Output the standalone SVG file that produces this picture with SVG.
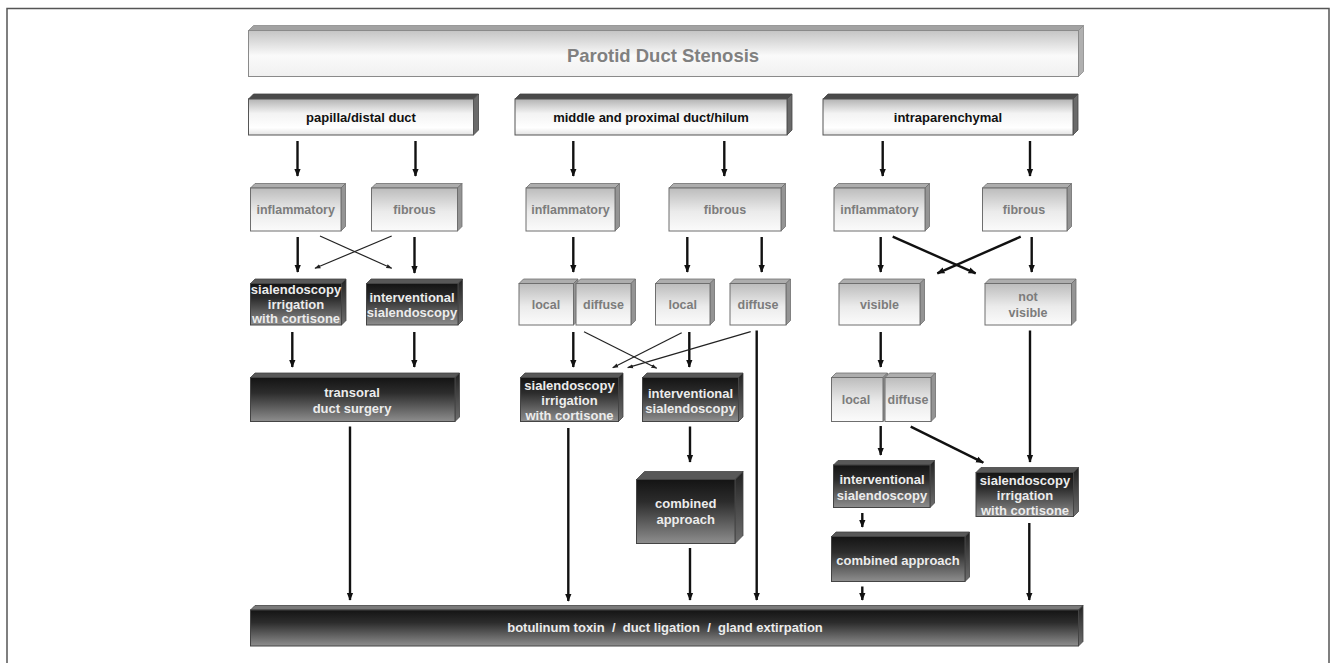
<svg xmlns="http://www.w3.org/2000/svg" width="1330" height="663" viewBox="0 0 1330 663">
<defs>
<linearGradient id="gLight" x1="0" y1="0" x2="0" y2="1"><stop offset="0" stop-color="#bcbcbc"/><stop offset="0.55" stop-color="#ebebeb"/><stop offset="1" stop-color="#fbfbfb"/></linearGradient>
<linearGradient id="gDark" x1="0" y1="0" x2="0" y2="1"><stop offset="0" stop-color="#141414"/><stop offset="0.35" stop-color="#2c2c2c"/><stop offset="1" stop-color="#8e8e8e"/></linearGradient>
<linearGradient id="gHead" x1="0" y1="0" x2="0" y2="1"><stop offset="0" stop-color="#b3b3b3"/><stop offset="0.4" stop-color="#f3f3f3"/><stop offset="0.8" stop-color="#ffffff"/><stop offset="1" stop-color="#e2e2e2"/></linearGradient>
<linearGradient id="gBanner" x1="0" y1="0" x2="0" y2="1"><stop offset="0" stop-color="#c4c4c4"/><stop offset="0.55" stop-color="#fafafa"/><stop offset="1" stop-color="#f0f0f0"/></linearGradient>
<linearGradient id="gDSide" x1="0" y1="0" x2="0" y2="1"><stop offset="0" stop-color="#222"/><stop offset="1" stop-color="#6e6e6e"/></linearGradient>
<marker id="ah" markerUnits="userSpaceOnUse" markerWidth="8" markerHeight="8" viewBox="0 0 10 10" refX="9" refY="5" orient="auto"><path d="M0,1 L10,5 L0,9 z" fill="#111"/></marker>
<marker id="ahs" markerUnits="userSpaceOnUse" markerWidth="6" markerHeight="6" viewBox="0 0 10 10" refX="9" refY="5" orient="auto"><path d="M0,1.5 L10,5 L0,8.5 z" fill="#222"/></marker>
</defs>
<style>
.lf{fill:url(#gLight);stroke:#6e6e6e;stroke-width:1}
.lt{fill:#adadad;stroke:#6e6e6e;stroke-width:0.8}
.ls{fill:#949494;stroke:#6e6e6e;stroke-width:0.8}
.df{fill:url(#gDark);stroke:#444;stroke-width:1}
.dt{fill:#585858;stroke:#444;stroke-width:0.8}
.ds{fill:url(#gDSide);stroke:#444;stroke-width:0.8}
.hf{fill:url(#gHead);stroke:#555;stroke-width:1}
.ht{fill:#4a4a4a;stroke:#444;stroke-width:0.8}
.hs{fill:#6a6a6a;stroke:#444;stroke-width:0.8}
.bf{fill:url(#gBanner);stroke:#8a8a8a;stroke-width:1}
.bt{fill:#a2a2a2;stroke:#8a8a8a;stroke-width:0.8}
.bs{fill:#b0b0b0;stroke:#8a8a8a;stroke-width:0.8}
text{font-family:"Liberation Sans",Arial,sans-serif;font-weight:bold;text-anchor:middle}
.tl{font-size:12.5px;fill:#7c7c7c}
.tw{font-size:13px;fill:#ececec}
.th{font-size:13px;fill:#111}
.tt{font-size:18.5px;fill:#808080}
.c{fill:none;stroke:#111;stroke-width:2.4;marker-end:url(#ah)}
.t{fill:none;stroke:#222;stroke-width:1.2;marker-end:url(#ahs)}
</style>
<rect x="0" y="0" width="1330" height="663" fill="#ffffff"/>
<rect x="7" y="8.5" width="1322" height="700" fill="none" stroke="#555" stroke-width="1.5"/>

<g id="banner">
<polygon class="bt" points="248.5,30.5 253.5,25.5 1083.5,25.5 1078.5,30.5"/>
<polygon class="bs" points="1078.5,30.5 1083.5,25.5 1083.5,71.5 1078.5,76.5"/>
<rect class="bf" x="248.5" y="30.5" width="830" height="46"/>
<text class="tt" x="663" y="62">Parotid Duct Stenosis</text>
</g>

<g id="h-papilla">
<polygon class="ht" points="248.5,99 253.5,94 478.5,94 473.5,99"/>
<polygon class="hs" points="473.5,99 478.5,94 478.5,130 473.5,135"/>
<rect class="hf" x="248.5" y="99" width="225" height="36"/>
<text class="th" x="361" y="122">papilla/distal duct</text>
</g>
<g id="h-middle">
<polygon class="ht" points="515,99 520,94 792,94 787,99"/>
<polygon class="hs" points="787,99 792,94 792,130 787,135"/>
<rect class="hf" x="515" y="99" width="272" height="36"/>
<text class="th" x="651" y="122">middle and proximal duct/hilum</text>
</g>
<g id="h-intra">
<polygon class="ht" points="823,99 828,94 1078,94 1073,99"/>
<polygon class="hs" points="1073,99 1078,94 1078,130 1073,135"/>
<rect class="hf" x="823" y="99" width="250" height="36"/>
<text class="th" x="948" y="122">intraparenchymal</text>
</g>

<g id="l-inflammatory">
<polygon class="lt" points="250.5,188 255,183.5 345.5,183.5 341,188"/>
<polygon class="ls" points="341,188 345.5,183.5 345.5,226.5 341,231"/>
<rect class="lf" x="250.5" y="188" width="90.5" height="43"/>
<text class="tl" x="295.7" y="214">inflammatory</text>
</g>
<g id="l-fibrous">
<polygon class="lt" points="371.5,188 376,183.5 462,183.5 457.5,188"/>
<polygon class="ls" points="457.5,188 462,183.5 462,226.5 457.5,231"/>
<rect class="lf" x="371.5" y="188" width="86" height="43"/>
<text class="tl" x="414.5" y="214">fibrous</text>
</g>
<g id="m-inflammatory">
<polygon class="lt" points="526,188 530.5,183.5 619.5,183.5 615,188"/>
<polygon class="ls" points="615,188 619.5,183.5 619.5,226.5 615,231"/>
<rect class="lf" x="526" y="188" width="89" height="43"/>
<text class="tl" x="570.5" y="214">inflammatory</text>
</g>
<g id="m-fibrous">
<polygon class="lt" points="669,188 673.5,183.5 785.5,183.5 781,188"/>
<polygon class="ls" points="781,188 785.5,183.5 785.5,226.5 781,231"/>
<rect class="lf" x="669" y="188" width="112" height="43"/>
<text class="tl" x="725" y="214">fibrous</text>
</g>
<g id="r-inflammatory">
<polygon class="lt" points="834,188 838.5,183.5 929.5,183.5 925,188"/>
<polygon class="ls" points="925,188 929.5,183.5 929.5,226.5 925,231"/>
<rect class="lf" x="834" y="188" width="91" height="43"/>
<text class="tl" x="879.5" y="214">inflammatory</text>
</g>
<g id="r-fibrous">
<polygon class="lt" points="982.5,188 987,183.5 1071.5,183.5 1067,188"/>
<polygon class="ls" points="1067,188 1071.5,183.5 1071.5,226.5 1067,231"/>
<rect class="lf" x="982.5" y="188" width="84.5" height="43"/>
<text class="tl" x="1024" y="214">fibrous</text>
</g>

<g id="l-sial-irrigation">
<polygon class="dt" points="250.5,283.5 255,279 346,279 341.5,283.5"/>
<polygon class="ds" points="341.5,283.5 346,279 346,320.5 341.5,325"/>
<rect class="df" x="250.5" y="283.5" width="91" height="41.5"/>
<text class="tw" x="296" y="294">sialendoscopy</text>
<text class="tw" x="296" y="308.5">irrigation</text>
<text class="tw" x="296" y="323">with cortisone</text>
</g>
<g id="l-interventional">
<polygon class="dt" points="366.5,283.5 371,279 462.5,279 458,283.5"/>
<polygon class="ds" points="458,283.5 462.5,279 462.5,320.5 458,325"/>
<rect class="df" x="366.5" y="283.5" width="91.5" height="41.5"/>
<text class="tw" x="412" y="301.5">interventional</text>
<text class="tw" x="412" y="316.5">sialendoscopy</text>
</g>
<g id="m-infl-local-diffuse">
<polygon class="lt" points="519,283.5 523.5,279 578,279 573.5,283.5"/>
<polygon class="ls" points="573.5,283.5 578,279 578,320.5 573.5,325"/>
<rect class="lf" x="519" y="283.5" width="54.5" height="41.5"/>
<polygon class="lt" points="576,283.5 580.5,279 635.5,279 631,283.5"/>
<polygon class="ls" points="631,283.5 635.5,279 635.5,320.5 631,325"/>
<rect class="lf" x="576" y="283.5" width="55" height="41.5"/>
<text class="tl" x="546" y="309">local</text>
<text class="tl" x="603.5" y="309">diffuse</text>
</g>
<g id="m-fib-local">
<polygon class="lt" points="655.5,283.5 660,279 714.5,279 710,283.5"/>
<polygon class="ls" points="710,283.5 714.5,279 714.5,320.5 710,325"/>
<rect class="lf" x="655.5" y="283.5" width="54.5" height="41.5"/>
<text class="tl" x="682.7" y="309">local</text>
</g>
<g id="m-fib-diffuse">
<polygon class="lt" points="730,283.5 734.5,279 790.5,279 786,283.5"/>
<polygon class="ls" points="786,283.5 790.5,279 790.5,320.5 786,325"/>
<rect class="lf" x="730" y="283.5" width="56" height="41.5"/>
<text class="tl" x="758" y="309">diffuse</text>
</g>
<g id="r-visible">
<polygon class="lt" points="839,283.5 843.5,279 924.5,279 920,283.5"/>
<polygon class="ls" points="920,283.5 924.5,279 924.5,320.5 920,325"/>
<rect class="lf" x="839" y="283.5" width="81" height="41.5"/>
<text class="tl" x="879.5" y="309">visible</text>
</g>
<g id="r-not-visible">
<polygon class="lt" points="985,283.5 989.5,279 1076,279 1071.5,283.5"/>
<polygon class="ls" points="1071.5,283.5 1076,279 1076,320.5 1071.5,325"/>
<rect class="lf" x="985" y="283.5" width="86.5" height="41.5"/>
<text class="tl" x="1028" y="301">not</text>
<text class="tl" x="1028" y="317">visible</text>
</g>

<g id="l-transoral">
<polygon class="dt" points="250.5,377.5 255,373 459.5,373 455,377.5"/>
<polygon class="ds" points="455,377.5 459.5,373 459.5,417 455,421.5"/>
<rect class="df" x="250.5" y="377.5" width="204.5" height="44"/>
<text class="tw" x="352" y="397">transoral</text>
<text class="tw" x="352" y="412.5">duct surgery</text>
</g>
<g id="m-sial-irrigation">
<polygon class="dt" points="520.5,377.5 525,373 623,373 618.5,377.5"/>
<polygon class="ds" points="618.5,377.5 623,373 623,417 618.5,421.5"/>
<rect class="df" x="520.5" y="377.5" width="98" height="44"/>
<text class="tw" x="569.5" y="389.5">sialendoscopy</text>
<text class="tw" x="569.5" y="404.5">irrigation</text>
<text class="tw" x="569.5" y="419.5">with cortisone</text>
</g>
<g id="m-interventional">
<polygon class="dt" points="642.5,377.5 647,373 743,373 738.5,377.5"/>
<polygon class="ds" points="738.5,377.5 743,373 743,417 738.5,421.5"/>
<rect class="df" x="642.5" y="377.5" width="96" height="44"/>
<text class="tw" x="690.5" y="397.5">interventional</text>
<text class="tw" x="690.5" y="412.5">sialendoscopy</text>
</g>
<g id="r-local-diffuse">
<polygon class="lt" points="831.5,377.5 836,373 887.5,373 883,377.5"/>
<polygon class="ls" points="883,377.5 887.5,373 887.5,417 883,421.5"/>
<rect class="lf" x="831.5" y="377.5" width="51.5" height="44"/>
<polygon class="lt" points="885,377.5 889.5,373 935.5,373 931,377.5"/>
<polygon class="ls" points="931,377.5 935.5,373 935.5,417 931,421.5"/>
<rect class="lf" x="885" y="377.5" width="46" height="44"/>
<text class="tl" x="856" y="404">local</text>
<text class="tl" x="908" y="404">diffuse</text>
</g>

<g id="m-combined">
<polygon class="dt" points="636.5,479.5 644.5,471.5 743,471.5 735,479.5"/>
<polygon class="ds" points="735,479.5 743,471.5 743,535.5 735,543.5"/>
<rect class="df" x="636.5" y="479.5" width="98.5" height="64"/>
<text class="tw" x="685.7" y="508">combined</text>
<text class="tw" x="685.7" y="524">approach</text>
</g>
<g id="r-interventional">
<polygon class="dt" points="833.5,465 838,460.5 934.5,460.5 930,465"/>
<polygon class="ds" points="930,465 934.5,460.5 934.5,503 930,507.5"/>
<rect class="df" x="833.5" y="465" width="96.5" height="42.5"/>
<text class="tw" x="882" y="483.5">interventional</text>
<text class="tw" x="882" y="499.5">sialendoscopy</text>
</g>
<g id="r-sial-irrigation">
<polygon class="dt" points="976,472.5 981,467.5 1078.5,467.5 1073.5,472.5"/>
<polygon class="ds" points="1073.5,472.5 1078.5,467.5 1078.5,511.5 1073.5,516.5"/>
<rect class="df" x="976" y="472.5" width="97.5" height="44"/>
<text class="tw" x="1025" y="484.5">sialendoscopy</text>
<text class="tw" x="1025" y="500">irrigation</text>
<text class="tw" x="1025" y="515">with cortisone</text>
</g>
<g id="r-combined">
<polygon class="dt" points="831.5,536.5 836,532 969.5,532 965,536.5"/>
<polygon class="ds" points="965,536.5 969.5,532 969.5,577 965,581.5"/>
<rect class="df" x="831.5" y="536.5" width="133.5" height="45"/>
<text class="tw" x="898" y="564.5">combined approach</text>
</g>

<g id="final">
<polygon class="dt" points="250.5,610 255,605.5 1083,605.5 1078.5,610" style="fill:#7a7a7a"/>
<polygon class="ds" points="1078.5,610 1083,605.5 1083,641.5 1078.5,646"/>
<rect class="df" x="250.5" y="610" width="828" height="36"/>
<text class="tw" x="665" y="632">botulinum toxin &#160;/&#160; duct ligation &#160;/&#160; gland extirpation</text>
</g>

<g id="connectors">
<path class="c" d="M297.5,141 V176"/>
<path class="c" d="M415.5,141 V176"/>
<path class="c" d="M573.3,141 V176"/>
<path class="c" d="M724.3,141 V176"/>
<path class="c" d="M882.7,141 V176"/>
<path class="c" d="M1030,141 V176"/>
<path class="c" d="M297.7,237 V272"/>
<path class="c" d="M414.5,237 V273"/>
<path class="t" d="M320,236 L391.7,268.3"/>
<path class="t" d="M391.7,236 L315,268.3"/>
<path class="c" d="M573.3,237 V272"/>
<path class="c" d="M687.3,237 V272"/>
<path class="c" d="M761.7,237 V272"/>
<path class="c" d="M880.7,237 V272"/>
<path class="c" d="M1031.7,237 V272"/>
<path class="c" d="M892.7,236.7 L975.7,273.3"/>
<path class="c" d="M1020.7,236.7 L937.3,273.3"/>
<path class="c" d="M292.3,332 V367"/>
<path class="c" d="M414.3,332 V367"/>
<path class="c" d="M573.3,332 V367"/>
<path class="t" d="M584,331.7 L656.7,368.3"/>
<path class="t" d="M681.7,332.7 L612.7,367.7"/>
<path class="c" d="M689.3,332 V367"/>
<path class="t" d="M750.7,331.7 L627.7,367.7"/>
<path class="c" d="M756.7,330.5 V600"/>
<path class="c" d="M880.7,332 V367"/>
<path class="c" d="M1030,330.5 V462"/>
<path class="c" d="M350,426.5 V600"/>
<path class="c" d="M568.3,428 V601"/>
<path class="c" d="M690,426.5 V462"/>
<path class="c" d="M690,548 V600"/>
<path class="c" d="M880.7,426 V455"/>
<path class="c" d="M910.7,426.7 L983.3,462.7"/>
<path class="c" d="M862.3,513 V527"/>
<path class="c" d="M862.3,586.5 V600"/>
<path class="c" d="M1029.3,523 V600"/>
</g>
</svg>
